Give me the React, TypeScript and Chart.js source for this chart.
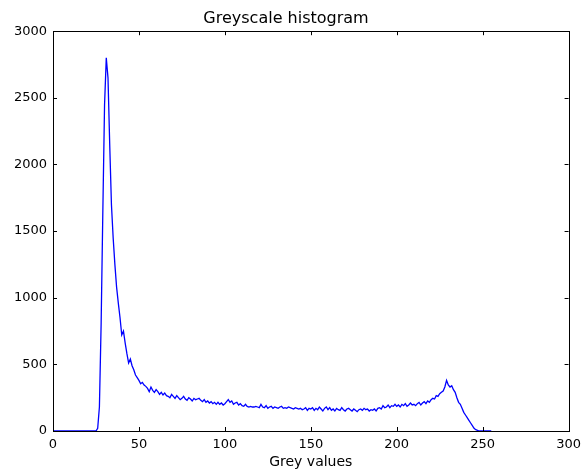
import React, { useEffect, useRef } from "react";
import { Chart, registerables } from "chart.js";

Chart.register(...registerables);

const TITLE = "Greyscale histogram";
const X_LABEL = "Grey values";
const X_TICKS = [0, 50, 100, 150, 200, 250, 300];
const Y_TICKS = [0, 500, 1000, 1500, 2000, 2500, 3000];

// Pixel counts per grey level 0..255
const counts: number[] = [
  0, 0, 0, 0, 0, 0, 0, 0, 0, 0,
  0, 0, 0, 0, 0, 0, 0, 0, 0, 0,
  0, 0, 0, 0, 0, 0, 20, 180, 800, 1650,
  2450, 2800, 2650, 2150, 1700, 1450, 1250, 1080, 960, 850,
  720, 750, 660, 580, 510, 540, 490, 460, 420, 400,
  380, 355, 365, 345, 335, 320, 295, 330, 305, 290,
  310, 295, 275, 290, 270, 285, 265, 260, 250, 275,
  260, 245, 265, 250, 235, 245, 260, 240, 230, 250,
  240, 225, 245, 235, 240, 245, 230, 220, 235, 215,
  225, 210, 220, 205, 215, 200, 215, 200, 210, 195,
  205, 220, 235, 215, 225, 200, 210, 215, 195, 205,
  190, 185, 200, 185, 180, 185, 180, 180, 185, 180,
  175, 200, 180, 175, 190, 170, 180, 185, 170, 180,
  175, 170, 180, 185, 170, 175, 170, 180, 175, 170,
  165, 175, 170, 165, 170, 160, 165, 175, 155, 170,
  165, 175, 155, 170, 160, 180, 165, 150, 170, 180,
  160, 175, 155, 165, 150, 170, 160, 155, 175, 160,
  150, 165, 170, 160, 150, 165, 155, 145, 160, 165,
  155, 170, 160, 165, 150, 160, 155, 165, 150, 170,
  175, 165, 190, 175, 180, 195, 175, 190, 185, 200,
  185, 195, 180, 200, 190, 205, 185, 195, 210, 195,
  200, 190, 205, 215, 195, 210, 220, 205, 225, 215,
  235, 245, 240, 265, 260, 280, 290, 300, 330, 380,
  345, 330, 340, 310, 290, 250, 215, 200, 170, 140,
  120, 100, 80, 60, 40, 20, 10, 5, 0, 0,
  0, 0, 0, 0, 0, 0,
];

const FONT = "'DejaVu Sans', sans-serif";

const framePlugin = {
  id: "mplFrame",
  afterDatasetsDraw(chart: any) {
    const { ctx, chartArea: a, scales } = chart;
    const tl = 4;
    ctx.save();
    ctx.strokeStyle = "#000";
    ctx.lineWidth = 1;
    ctx.beginPath();
    X_TICKS.forEach((t) => {
      const px = Math.round(scales.x.getPixelForValue(t)) + 0.5;
      ctx.moveTo(px, a.bottom);
      ctx.lineTo(px, a.bottom - tl);
      ctx.moveTo(px, a.top);
      ctx.lineTo(px, a.top + tl);
    });
    Y_TICKS.forEach((t) => {
      const py = Math.round(scales.y.getPixelForValue(t)) + 0.5;
      ctx.moveTo(a.left, py);
      ctx.lineTo(a.left + tl, py);
      ctx.moveTo(a.right, py);
      ctx.lineTo(a.right - tl, py);
    });
    ctx.stroke();
    ctx.strokeRect(
      Math.round(a.left) + 0.5,
      Math.round(a.top) + 0.5,
      Math.round(a.right - a.left),
      Math.round(a.bottom - a.top)
    );
    ctx.restore();
  },
};

export default function App() {
  const ref = useRef<HTMLCanvasElement>(null);
  useEffect(() => {
    document.body.style.margin = "0";
    const chart = new Chart(ref.current!, {
      type: "line",
      data: {
        datasets: [
          {
            data: counts.map((v, i) => ({ x: i, y: v })),
            borderColor: "#0000ff",
            borderWidth: 1.3,
            pointRadius: 0,
            tension: 0,
            fill: false,
          },
        ],
      },
      options: {
        animation: false,
        responsive: false,
        layout: { padding: { left: 0, right: 15, top: 0, bottom: 0 } },
        plugins: {
          legend: { display: false },
          tooltip: { enabled: false },
          title: {
            display: true,
            text: TITLE,
            color: "#000",
            font: { family: FONT, size: 16, weight: "normal" },
            padding: { top: 9, bottom: 3 },
          },
        },
        scales: {
          x: {
            type: "linear",
            min: 0,
            max: 300,
            afterBuildTicks: (s: any) => {
              s.ticks = X_TICKS.map((v) => ({ value: v }));
            },
            afterFit: (s: any) => {
              s.height = 41;
            },
            grid: { display: false, drawTicks: false },
            border: { display: false },
            ticks: {
              color: "#000",
              font: { family: FONT, size: 13 },
              padding: 6,
              maxRotation: 0,
              callback: (v: any) => String(v),
            },
            title: {
              display: true,
              text: X_LABEL,
              color: "#000",
              font: { family: FONT, size: 14 },
              padding: { top: 0, bottom: 1 },
            },
          },
          y: {
            type: "linear",
            min: 0,
            max: 3000,
            afterBuildTicks: (s: any) => {
              s.ticks = Y_TICKS.map((v) => ({ value: v }));
            },
            afterFit: (s: any) => {
              s.width = 53;
            },
            grid: { display: false, drawTicks: false },
            border: { display: false },
            ticks: {
              color: "#000",
              font: { family: FONT, size: 13 },
              padding: 6,
              callback: (v: any) => String(v),
            },
          },
        },
      },
      plugins: [framePlugin],
    } as any);
    return () => chart.destroy();
  }, []);
  return (
    <div style={{ width: 587, height: 472, background: "#fff" }}>
      <canvas ref={ref} width={587} height={472} />
    </div>
  );
}
